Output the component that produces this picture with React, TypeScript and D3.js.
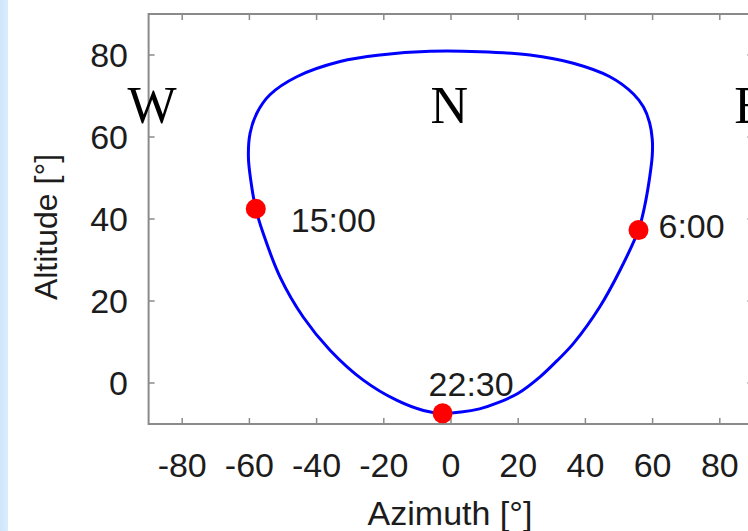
import React from "react";
import * as d3 from "d3";

// ---- data ----
const pathAzimuth = [
  -2.5, 3, 8.5, 14, 20, 26.5, 32, 36.4, 44.3, 50.3, 55.8, 57.6, 59.1, 59.9, 59.9, 59.1, 57.3, 54.3,
  47.3, 36.4, 23.5, 8.6, -6.2, -21.1, -33, -45.9, -53.9, -57.8, -59.8, -60.3, -59.6, -58.1, -55.9,
  -50.9, -44, -36, -26.1, -16.2, -8.2,
];
const pathAltitude = [
  -7.4, -7.1, -6.3, -4.8, -2.5, 1.5, 5.8, 9.6, 18.6, 27.5, 37.3, 43, 50, 55.5, 59.5, 63.5, 67.3, 70.5,
  74.7, 78, 80, 80.8, 80.9, 80, 78.4, 74.7, 70.3, 65.8, 60.9, 55.2, 49.5, 42.5, 36.5, 25.9, 16.1, 8,
  0.7, -4.2, -6.7,
];
const markerTimes = ["15:00", "6:00", "22:30"];
const markerAzimuth = [-58.1, 55.8, -2.5];
const markerAltitude = [42.5, 37.3, -7.4];
const compassLabels = ["W", "N", "E"];
const compassAzimuth = [-89, -0.5, 89];
const xTicks = [-80, -60, -40, -20, 0, 20, 40, 60, 80];
const yTicks = [0, 20, 40, 60, 80];
const xDomain = [-90, 90];
const yDomain = [-10, 90];

// ---- layout ----
const W = 748;
const H = 531;
const left = 148.6;
const right = 753.4;
const top = 14;
const bottom = 424;
const labelOffsets = [
  { dx: 35, dy: 23 },
  { dx: 20, dy: 8 },
  { dx: -14, dy: -17 },
];
const sans = "'Liberation Sans', Arial, Helvetica, sans-serif";
const serif = "'Liberation Serif', 'Times New Roman', serif";
const fontSize = 34;
const textColor = "#1c1c1c";
const frameColor = "#8a8a8a";
const tickLen = 6;

export default function App() {
  const x = d3.scaleLinear().domain(xDomain).range([left, right]);
  const y = d3.scaleLinear().domain(yDomain).range([bottom, top]);
  const pts: [number, number][] = pathAzimuth.map((a, i) => [a, pathAltitude[i]]);
  const line = d3
    .line<[number, number]>()
    .x((d) => x(d[0]))
    .y((d) => y(d[1]))
    .curve(d3.curveCatmullRomClosed.alpha(0.5));

  return (
    <div style={{ position: "absolute", left: 0, top: 0, width: W, height: H, background: "#fff" }}>
      <svg width={W} height={H} style={{ display: "block" }}>
        <defs>
          <linearGradient id="edge" x1="0" x2="1" y1="0" y2="0">
            <stop offset="0" stopColor="#cfe6fb" />
            <stop offset="1" stopColor="#d9edfd" />
          </linearGradient>
        </defs>
        <rect x={0} y={0} width={W} height={H} fill="#fff" />
        <rect x={0} y={0} width={8} height={H} fill="url(#edge)" />

        {/* frame */}
        <rect
          x={left}
          y={top}
          width={right - left}
          height={bottom - top}
          fill="none"
          stroke={frameColor}
          strokeWidth={2}
        />
        {xTicks.map((t) => (
          <g key={"xt" + t}>
            <line x1={x(t)} x2={x(t)} y1={bottom} y2={bottom - tickLen} stroke={frameColor} strokeWidth={1.5} />
            <line x1={x(t)} x2={x(t)} y1={top} y2={top + tickLen} stroke={frameColor} strokeWidth={1.5} />
            <text
              x={x(t)}
              y={477}
              textAnchor="middle"
              fontFamily={sans}
              fontSize={fontSize}
              fill={textColor}
            >
              {t}
            </text>
          </g>
        ))}
        {yTicks.map((t) => (
          <g key={"yt" + t}>
            <line x1={left} x2={left + tickLen} y1={y(t)} y2={y(t)} stroke={frameColor} strokeWidth={1.5} />
            <line x1={right} x2={right - tickLen} y1={y(t)} y2={y(t)} stroke={frameColor} strokeWidth={1.5} />
            <text
              x={128}
              y={y(t)}
              dy="0.36em"
              textAnchor="end"
              fontFamily={sans}
              fontSize={fontSize}
              fill={textColor}
            >
              {t}
            </text>
          </g>
        ))}

        {/* axis titles */}
        <text x={450} y={525} textAnchor="middle" fontFamily={sans} fontSize={fontSize} fill={textColor}>
          Azimuth [°]
        </text>
        <text
          transform="translate(57,227) rotate(-90)"
          textAnchor="middle"
          fontFamily={sans}
          fontSize={32}
          fill={textColor}
        >
          Altitude [°]
        </text>

        {/* sun path */}
        <path d={line(pts) || ""} fill="none" stroke="#0000ff" strokeWidth={3} />

        {markerTimes.map((t, i) => (
          <g key={t}>
            <circle cx={x(markerAzimuth[i])} cy={y(markerAltitude[i])} r={10} fill="#ff0000" />
            <text
              x={x(markerAzimuth[i]) + labelOffsets[i].dx}
              y={y(markerAltitude[i]) + labelOffsets[i].dy}
              fontFamily={sans}
              fontSize={fontSize}
              fill={textColor}
            >
              {t}
            </text>
          </g>
        ))}

        {compassLabels.map((c, i) => (
          <text
            key={c}
            x={x(compassAzimuth[i])}
            y={123}
            textAnchor="middle"
            fontFamily={serif}
            fontSize={52}
            fill="#000"
          >
            {c}
          </text>
        ))}
      </svg>
    </div>
  );
}
